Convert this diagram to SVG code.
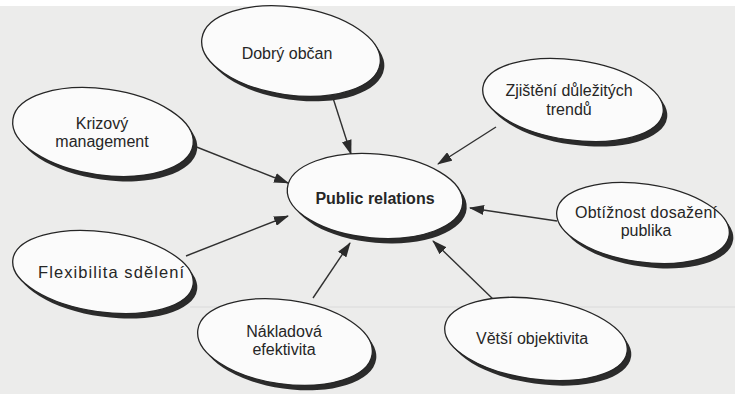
<svg xmlns="http://www.w3.org/2000/svg" width="735" height="394" viewBox="0 0 735 394">
  <defs>
    <style>
      .bg { fill: #ececeb; }
      .shadow { fill: #2b2b2b; }
      .node { fill: #fbfbfb; stroke: #262626; stroke-width: 1.3; }
      .lbl { font-family: "Liberation Sans", Arial, Helvetica, sans-serif; font-size: 16px; fill: #262626; text-anchor: middle; }
      .main { font-weight: bold; font-size: 16px; }
      .edge { stroke: #303030; stroke-width: 1.4; fill: none; marker-end: url(#arrow); }
    </style>
    <marker id="arrow" viewBox="0 0 15 10" refX="14" refY="5" markerWidth="15" markerHeight="10" markerUnits="userSpaceOnUse" orient="auto">
      <path d="M0,0 L15,5 L0,10 Z" fill="#2b2b2b"/>
    </marker>
  </defs>
  <rect class="bg" x="0" y="0" width="735" height="394"/>
  <rect x="0" y="0" width="735" height="6" fill="#ffffff"/>
  <line x1="190" y1="307" x2="735" y2="307" stroke="#dadada" stroke-width="1"/>

  <g id="connectors">
    <line class="edge" x1="333" y1="98" x2="351" y2="154"/>
    <line class="edge" x1="194" y1="146" x2="288" y2="183"/>
    <line class="edge" x1="186" y1="256" x2="288" y2="216"/>
    <line class="edge" x1="313" y1="298" x2="350" y2="243"/>
    <line class="edge" x1="495" y1="301" x2="433" y2="241"/>
    <line class="edge" x1="557" y1="221" x2="470" y2="208"/>
    <line class="edge" x1="496" y1="127" x2="438" y2="164"/>
  </g>

  <g id="public-relations">
    <ellipse class="shadow" cx="379" cy="201" rx="88" ry="42" transform="rotate(5 379 201)"/>
    <ellipse class="node" cx="375" cy="196" rx="88" ry="42" transform="rotate(5 375 196)"/>
    <text class="lbl main" x="375" y="204">Public relations</text>
  </g>

  <g id="dobry-obcan">
    <ellipse class="shadow" cx="295" cy="56" rx="90" ry="44" transform="rotate(8 295 56)"/>
    <ellipse class="node" cx="291" cy="51" rx="90" ry="44" transform="rotate(8 291 51)"/>
    <text class="lbl" x="287" y="59">Dobrý občan</text>
  </g>

  <g id="krizovy-management">
    <ellipse class="shadow" cx="107" cy="137" rx="91" ry="43" transform="rotate(8 107 137)"/>
    <ellipse class="node" cx="103" cy="132" rx="91" ry="43" transform="rotate(8 103 132)"/>
    <text class="lbl" x="102" y="129">Krizový</text>
    <text class="lbl" x="102" y="147">management</text>
  </g>

  <g id="zjisteni-trendu">
    <ellipse class="shadow" cx="577" cy="105" rx="91" ry="40" transform="rotate(8 577 105)"/>
    <ellipse class="node" cx="573" cy="100" rx="91" ry="40" transform="rotate(8 573 100)"/>
    <text class="lbl" x="569" y="96">Zjištění důležitých</text>
    <text class="lbl" x="569" y="115">trendů</text>
  </g>

  <g id="obtiznost-publika">
    <ellipse class="shadow" cx="647" cy="228" rx="87" ry="39" transform="rotate(8 647 228)"/>
    <ellipse class="node" cx="643" cy="223" rx="87" ry="39" transform="rotate(8 643 223)"/>
    <text class="lbl" x="646" y="218" textLength="142" lengthAdjust="spacing">Obtížnost dosažení</text>
    <text class="lbl" x="646" y="236">publika</text>
  </g>

  <g id="flexibilita-sdeleni">
    <ellipse class="shadow" cx="107" cy="277" rx="91" ry="40" transform="rotate(8 107 277)"/>
    <ellipse class="node" cx="103" cy="272" rx="91" ry="40" transform="rotate(8 103 272)"/>
    <text class="lbl" x="111" y="278" style="font-size:16.5px" textLength="146" lengthAdjust="spacing">Flexibilita sdělení</text>
  </g>

  <g id="nakladova-efektivita">
    <ellipse class="shadow" cx="289" cy="347" rx="88" ry="42" transform="rotate(8 289 347)"/>
    <ellipse class="node" cx="285" cy="342" rx="88" ry="42" transform="rotate(8 285 342)"/>
    <text class="lbl" x="284" y="337">Nákladová</text>
    <text class="lbl" x="284" y="355">efektivita</text>
  </g>

  <g id="vetsi-objektivita">
    <ellipse class="shadow" cx="540" cy="344" rx="92" ry="40" transform="rotate(8 540 344)"/>
    <ellipse class="node" cx="536" cy="339" rx="92" ry="40" transform="rotate(8 536 339)"/>
    <text class="lbl" x="532" y="344">Větší objektivita</text>
  </g>
</svg>
